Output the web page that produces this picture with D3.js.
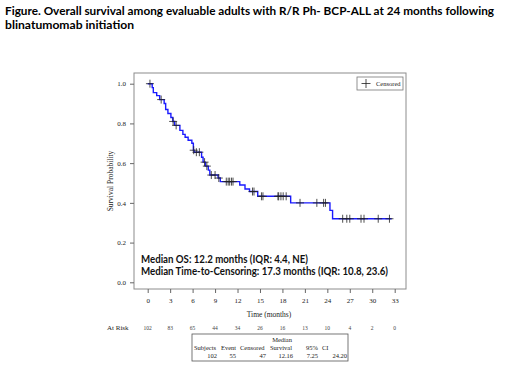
<!DOCTYPE html>
<html><head><meta charset="utf-8">
<script src="https://cdn.jsdelivr.net/npm/d3@7"></script>
<style>body{margin:0;background:#fff}</style>
</head><body>
<script>
// ---- data ----
const stepTimes = [0, 0.6, 0.75, 1.2, 1.6, 2.2, 2.4, 2.7, 3.1, 3.35, 3.6, 4.3, 4.7, 5.0, 5.4, 5.9, 6.1, 6.2, 7.2, 7.4, 7.7, 8.1, 8.3, 9.4, 9.7, 12.3, 13.0, 13.6, 14.7, 19.1, 24.35, 24.7];
const stepSurv  = [1.0, 0.98, 0.955, 0.94, 0.92, 0.90, 0.87, 0.85, 0.83, 0.81, 0.79, 0.765, 0.745, 0.73, 0.715, 0.70, 0.665, 0.655, 0.63, 0.605, 0.585, 0.565, 0.54, 0.525, 0.507, 0.49, 0.47, 0.457, 0.433, 0.40, 0.362, 0.32];
const endTime = 32.6;
const censorTimes = [0.3, 1.8, 3.4, 3.8, 6.15, 6.5, 6.9, 7.6, 7.9, 8.5, 9.0, 9.5, 10.5, 10.75, 10.95, 11.2, 11.4, 14.0, 14.2, 15.2, 15.4, 17.4, 17.5, 17.8, 18.1, 18.5, 20.35, 22.6, 23.5, 23.75, 26.05, 26.6, 27.0, 28.5, 28.9, 30.8, 32.3];
const xTicks = [0, 3, 6, 9, 12, 15, 18, 21, 24, 27, 30, 33];
const yTicks = [0, 0.2, 0.4, 0.6, 0.8, 1.0];
const atRisk = [102, 83, 65, 44, 34, 26, 16, 13, 10, 4, 2, 0];
const tableHeader = ["Subjects", "Event", "Censored", "Survival", "95%", "CI"];
const tableValues = ["102", "55", "47", "12.16", "7.25", "24.20"];
const titleLines = ["Figure. Overall survival among evaluable adults with R/R Ph- BCP-ALL at 24 months following", "blinatumomab initiation"];
const medianLines = ["Median OS: 12.2 months (IQR: 4.4, NE)", "Median Time-to-Censoring: 17.3 months (IQR: 10.8, 23.6)"];

// ---- chart ----
const W = 520, H = 366;
const svg = d3.select("body").append("svg").attr("width", W).attr("height", H);
const serif = "'Liberation Serif','Times New Roman',serif";
const sans = "Lato,'Open Sans',sans-serif";

// title
svg.selectAll("text.title").data(titleLines).join("text")
  .attr("x", 5).attr("y", (d, i) => 14.5 + i * 14.5)
  .attr("font-family", sans).attr("font-weight", "bold").attr("font-size", 11.3)
  .attr("textLength", (d, i) => i === 0 ? 489 : 129).attr("lengthAdjust", "spacingAndGlyphs")
  .attr("fill", "#000").text(d => d);

const frame = {l: 134, r: 406, t: 73, b: 289};
const x = d3.scaleLinear().domain([0, 33]).range([147.7, 394.7]);
const y = d3.scaleLinear().domain([0, 1]).range([282.3, 83.7]);

svg.append("rect").attr("x", frame.l).attr("y", frame.t)
  .attr("width", frame.r - frame.l).attr("height", frame.b - frame.t)
  .attr("fill", "none").attr("stroke", "#8c8c8c").attr("stroke-width", 1);

// axes
const yAxis = svg.append("g").attr("transform", `translate(${frame.l},0)`)
  .call(d3.axisLeft(y).tickValues(yTicks).tickFormat(d3.format(".1f")).tickSize(4).tickSizeOuter(0));
const xAxis = svg.append("g").attr("transform", `translate(0,${frame.b})`)
  .call(d3.axisBottom(x).tickValues(xTicks).tickFormat(d3.format("d")).tickSize(4).tickSizeOuter(0));
[yAxis, xAxis].forEach(g => {
  g.select(".domain").remove();
  g.selectAll("line").attr("stroke", "#666");
  g.selectAll("text").attr("font-family", serif).attr("font-size", 7).attr("fill", "#222");
});
yAxis.selectAll("text").attr("x", -8).attr("dy", "0.32em");
xAxis.selectAll("text").attr("y", 9).attr("dy", "0.71em");

svg.append("text").attr("x", (frame.l + frame.r) / 2 - 1).attr("y", 317)
  .attr("text-anchor", "middle").attr("font-family", serif).attr("font-size", 7.5).attr("fill", "#222")
  .text("Time (months)");
svg.append("text").attr("transform", `translate(113,${(frame.t + frame.b) / 2}) rotate(-90)`)
  .attr("text-anchor", "middle").attr("font-family", serif).attr("font-size", 7.5).attr("fill", "#222")
  .text("Survival Probability");

// KM curve
const pts = stepTimes.map((t, i) => [t, stepSurv[i]]);
pts.push([endTime, stepSurv[stepSurv.length - 1]]);
const line = d3.line().x(d => x(d[0])).y(d => y(d[1])).curve(d3.curveStepAfter);
svg.append("path").datum(pts).attr("d", line)
  .attr("fill", "none").attr("stroke", "#1a1aff").attr("stroke-width", 1.4);

// censor marks
const survAt = t => stepSurv[d3.bisectRight(stepTimes, t) - 1];
const cs = 4;
const cg = svg.append("g").attr("stroke", "#222").attr("stroke-width", 0.8);
censorTimes.forEach(t => {
  const cx = x(t), cy = y(survAt(t));
  cg.append("line").attr("x1", cx - cs).attr("x2", cx + cs).attr("y1", cy).attr("y2", cy);
  cg.append("line").attr("x1", cx).attr("x2", cx).attr("y1", cy - cs).attr("y2", cy + cs);
});

// legend
svg.append("rect").attr("x", 357).attr("y", 77).attr("width", 46).attr("height", 13)
  .attr("fill", "#fff").attr("stroke", "#777").attr("stroke-width", 0.8);
const lg = svg.append("g").attr("stroke", "#222").attr("stroke-width", 0.8);
lg.append("line").attr("x1", 361.5).attr("x2", 370.5).attr("y1", 83.5).attr("y2", 83.5);
lg.append("line").attr("x1", 366).attr("x2", 366).attr("y1", 79).attr("y2", 88);
svg.append("text").attr("x", 376).attr("y", 86).attr("font-family", serif).attr("font-size", 6.5)
  .attr("fill", "#222").text("Censored");

// median annotation
svg.selectAll("text.med").data(medianLines).join("text")
  .attr("x", 141).attr("y", (d, i) => 263 + i * 11.5)
  .attr("font-family", sans).attr("font-weight", "bold").attr("font-size", 11)
  .attr("textLength", (d, i) => i === 0 ? 167 : 247).attr("lengthAdjust", "spacingAndGlyphs")
  .attr("fill", "#111").text(d => d);

// at risk
svg.append("text").attr("x", 107).attr("y", 330).attr("font-family", serif).attr("font-size", 7)
  .attr("fill", "#222").text("At Risk");
svg.selectAll("text.risk").data(atRisk).join("text")
  .attr("x", (d, i) => x(xTicks[i])).attr("y", 330).attr("text-anchor", "middle")
  .attr("font-family", serif).attr("font-size", 5.5).attr("fill", "#444").text(d => d);

// table
svg.append("rect").attr("x", 192).attr("y", 334).attr("width", 156).attr("height", 27)
  .attr("fill", "#fff").attr("stroke", "#555").attr("stroke-width", 0.8);
const tf = s => s.attr("font-family", serif).attr("font-size", 6.5).attr("fill", "#222");
tf(svg.append("text").attr("x", 292).attr("y", 341.5).attr("text-anchor", "end").text("Median"));
const hdrX = [194, 221, 240, 270, 306, 322];
svg.selectAll("text.hdr").data(tableHeader).join("text")
  .attr("x", (d, i) => hdrX[i]).attr("y", 350).call(tf).text(d => d);
const valX = [217, 236, 266, 293, 318, 347];
svg.selectAll("text.val").data(tableValues).join("text")
  .attr("x", (d, i) => valX[i]).attr("y", 357.5).attr("text-anchor", "end").call(tf).text(d => d);
</script>
</body></html>
